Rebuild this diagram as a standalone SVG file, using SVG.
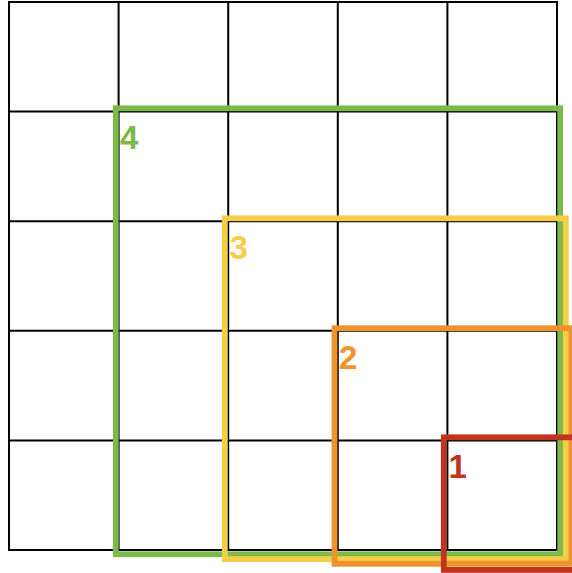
<svg xmlns="http://www.w3.org/2000/svg" width="572" height="573" viewBox="0 0 572 573">
<style>
.grid{stroke:#000;stroke-width:2;fill:none}
.win{fill:none;stroke-width:5.8}
.lbl{font-family:"Liberation Sans",Arial,sans-serif;font-weight:bold;font-size:33px}
.g{stroke:#7cb84a}.y{stroke:#f3ce46}.o{stroke:#f0932f}.r{stroke:#c0341d}
</style>
<rect width="572" height="573" fill="#fff"/>
<g id="grid" class="grid">
<rect x="9" y="2" width="548" height="548"/>
<line x1="118.6" y1="2" x2="118.6" y2="550"/>
<line x1="228.2" y1="2" x2="228.2" y2="550"/>
<line x1="337.8" y1="2" x2="337.8" y2="550"/>
<line x1="447.4" y1="2" x2="447.4" y2="550"/>
<line x1="9" y1="111.6" x2="557" y2="111.6"/>
<line x1="9" y1="221.2" x2="557" y2="221.2"/>
<line x1="9" y1="330.8" x2="557" y2="330.8"/>
<line x1="9" y1="440.4" x2="557" y2="440.4"/>
</g>
<g id="window4">
<rect class="win g" x="115.8" y="108.3" width="444.4" height="446"/>
<text class="lbl" x="120" y="149" fill="#7cb84a">4</text>
</g>
<g id="window3">
<rect class="win y" x="224.8" y="218.3" width="341" height="340.8"/>
<text class="lbl" x="229.5" y="259" fill="#f3ce46">3</text>
</g>
<g id="window2">
<rect class="win o" x="334.5" y="328.2" width="236.8" height="235.6"/>
<text class="lbl" x="339" y="368.8" fill="#f0932f">2</text>
</g>
<g id="window1">
<rect class="win r" x="443.8" y="437.3" width="132.5" height="132.6"/>
<text class="lbl" x="448.5" y="478.3" fill="#c0341d">1</text>
</g>
<g id="connectors"/>
</svg>
